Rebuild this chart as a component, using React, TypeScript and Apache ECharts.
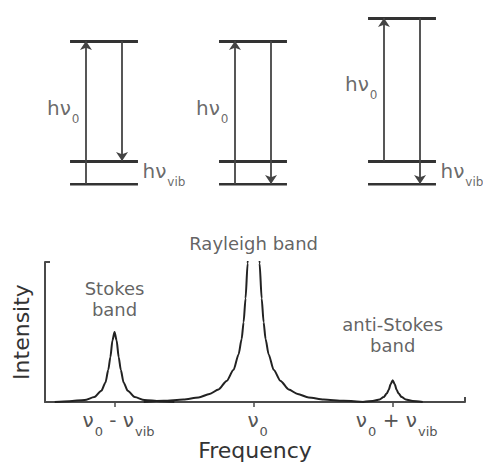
import React, { useEffect, useRef } from 'react';
import * as echarts from 'echarts';

// ---- Energy-level diagrams (energy in units of h·ν_vib) ----
const diagrams = ['Stokes', 'Rayleigh', 'anti-Stokes'];
const groundLevel = 0;
const vibLevel = 1;
const virtualLevels = [6.2, 6.2, 7.2];
const excitationFrom = [0, 0, 1];
const excitationTo = [6.2, 6.2, 7.2];
const emissionFrom = [6.2, 6.2, 7.2];
const emissionTo = [1, 0, 0];
const vibLabelShown = [true, false, true];

// ---- Spectrum (frequency in units of ν_vib relative to ν0; intensity arbitrary, axis top = 100) ----
const bandNames = ['Stokes\nband', 'Rayleigh band', 'anti-Stokes\nband'];
const bandCenters = [-1, 0, 1];
const tickLabels = ['ν0 - νvib', 'ν0', 'ν0 + νvib'];

const stokesOffsets = [0, 0.015, 0.03, 0.045, 0.065, 0.095, 0.145, 0.215, 0.325, 0.43];
const stokesValues = [50, 44, 32, 23, 14, 8, 3.5, 1.4, 0.6, 0];

const rayleighOffsets = [0, 0.029, 0.043, 0.058, 0.072, 0.086, 0.108, 0.144, 0.194, 0.252, 0.317, 0.396, 0.504, 0.647, 0.79];
const rayleighValues = [135, 120, 99, 74, 57, 45, 34, 23, 15, 9, 5.7, 3.2, 1.8, 0.85, 0];

const antiStokesOffsets = [0, 0.014, 0.029, 0.043, 0.065, 0.094, 0.144, 0.216];
const antiStokesValues = [15.6, 12.8, 8.5, 6, 3.5, 1.8, 0.7, 0];

const FONT = 'DejaVu Sans';
const LEVEL_HALF = 0.228;
const ARROW_DX = 0.121;
const X_MIN = -1.5;
const X_MAX = 1.52;
const Y_MAX = 100;

function mirror(center: number, offsets: number[], values: number[]) {
  const left = offsets.slice(1).map((o, i) => [center - o, values[i + 1]]).reverse();
  const right = offsets.map((o, i) => [center + o, values[i]]);
  return [...left, ...right];
}

function richify(s: string) {
  return s
    .split(/(ν(?:0|vib))/)
    .filter((p) => p.length > 0)
    .map((p) => {
      const m = p.match(/^ν(0|vib)$/);
      return m ? `{m|ν}{s|${m[1]}}` : `{m|${p}}`;
    })
    .join('');
}

export default function App() {
  const ref = useRef<HTMLDivElement>(null);
  useEffect(() => {
    if (!ref.current) return;
    const chart = echarts.init(ref.current, null, { renderer: 'svg' });

    const levelData: any[] = [];
    const arrowData: any[] = [];
    const h0Labels: any[] = [];
    const vibLabels: any[] = [];
    diagrams.forEach((_, i) => {
      [groundLevel, vibLevel, virtualLevels[i]].forEach((e) => {
        levelData.push({ coords: [[i - LEVEL_HALF, e], [i + LEVEL_HALF, e]] });
      });
      arrowData.push({ coords: [[i - ARROW_DX, excitationFrom[i]], [i - ARROW_DX, excitationTo[i]]] });
      arrowData.push({ coords: [[i + ARROW_DX, emissionFrom[i]], [i + ARROW_DX, emissionTo[i]]] });
      h0Labels.push([i - ARROW_DX, (excitationFrom[i] + excitationTo[i]) / 2]);
      if (vibLabelShown[i]) vibLabels.push([i + LEVEL_HALF, (groundLevel + vibLevel) / 2]);
    });

    const subRich = {
      m: { fontSize: 20, fontFamily: FONT, color: '#444', lineHeight: 22, verticalAlign: 'top' },
      s: { fontSize: 12, fontFamily: FONT, color: '#444', lineHeight: 14, verticalAlign: 'top', padding: [15, 0, 0, 1] },
    };

    const bandShapes = [
      mirror(bandCenters[0], stokesOffsets, stokesValues),
      mirror(bandCenters[1], rayleighOffsets, rayleighValues),
      mirror(bandCenters[2], antiStokesOffsets, antiStokesValues),
    ];
    const bandPeaks = [stokesValues[0], rayleighValues[0], antiStokesValues[0]];
    const bandLabelDistance = [12, 8, 24];

    const option: any = {
      animation: false,
      grid: [
        { left: 29.5, right: 6.5, top: 18, bottom: 278 },
        { left: 45, right: 18, top: 262, bottom: 59 },
      ],
      xAxis: [
        { gridIndex: 0, type: 'value', min: -0.5, max: 2.5, show: false },
        {
          gridIndex: 1, type: 'value', min: X_MIN, max: X_MAX,
          axisLine: { show: true, onZero: false, lineStyle: { color: '#4a4a4a', width: 2 } },
          axisTick: { show: true, customValues: bandCenters, length: 5, lineStyle: { color: '#4a4a4a', width: 1.5 } },
          axisLabel: {
            show: true, customValues: bandCenters, margin: 8, padding: [0, 0, 0, 8],
            formatter: (v: number) => richify(tickLabels[bandCenters.indexOf(Math.round(v))] || ''),
            rich: {
              m: { fontSize: 20, fontFamily: FONT, color: '#555', lineHeight: 22, verticalAlign: 'top' },
              s: { fontSize: 13, fontFamily: FONT, color: '#555', lineHeight: 12, verticalAlign: 'top', padding: [15, 0, 0, 1] },
            },
          },
          splitLine: { show: false },
          name: 'Frequency', nameLocation: 'middle', nameGap: 37,
          nameTextStyle: { fontSize: 22, fontFamily: FONT, color: '#333' },
        },
        {
          gridIndex: 1, type: 'value', min: X_MIN, max: X_MAX, position: 'bottom',
          axisLine: { show: false, onZero: false },
          axisTick: { show: true, inside: true, customValues: [X_MAX], length: 5, lineStyle: { color: '#4a4a4a', width: 2 } },
          axisLabel: { show: false }, splitLine: { show: false },
        },
      ],
      yAxis: [
        { gridIndex: 0, type: 'value', min: 0, max: 7.2, show: false },
        {
          gridIndex: 1, type: 'value', min: 0, max: Y_MAX,
          axisLine: { show: true, onZero: false, lineStyle: { color: '#4a4a4a', width: 2 } },
          axisTick: { show: true, inside: true, customValues: [Y_MAX], length: 5, lineStyle: { color: '#4a4a4a', width: 2 } },
          axisLabel: { show: false }, splitLine: { show: false },
          name: 'Intensity', nameLocation: 'middle', nameGap: 13, nameRotate: 90,
          nameTextStyle: { fontSize: 22, fontFamily: FONT, color: '#333' },
        },
      ],
      series: [
        {
          type: 'lines', coordinateSystem: 'cartesian2d', xAxisIndex: 0, yAxisIndex: 0,
          data: levelData, symbol: ['none', 'none'],
          lineStyle: { color: '#333', width: 3, opacity: 1 },
        },
        {
          type: 'lines', coordinateSystem: 'cartesian2d', xAxisIndex: 0, yAxisIndex: 0,
          data: arrowData, symbol: ['none', 'arrow'], symbolSize: 9, symbolOffset: [0, 4],
          lineStyle: { color: '#444', width: 1.8, opacity: 1 },
        },
        {
          type: 'scatter', xAxisIndex: 0, yAxisIndex: 0, data: h0Labels, symbolSize: 1,
          itemStyle: { color: 'transparent' }, silent: true,
          label: { show: true, position: 'left', distance: 6, offset: [0, -4], formatter: '{m|hν}{s|0}', rich: subRich },
        },
        {
          type: 'scatter', xAxisIndex: 0, yAxisIndex: 0, data: vibLabels, symbolSize: 1,
          itemStyle: { color: 'transparent' }, silent: true,
          label: { show: true, position: 'right', distance: 4, formatter: '{m|hν}{s|vib}', rich: subRich },
        },
        ...bandShapes.map((d, i) => ({
          type: 'line', name: diagrams[i], xAxisIndex: 1, yAxisIndex: 1, data: d,
          showSymbol: false, smooth: 0.25, smoothMonotone: 'x', clip: true,
          lineStyle: { color: '#222', width: 2 },
        })),
        {
          type: 'scatter', xAxisIndex: 1, yAxisIndex: 1, symbolSize: 1, clip: false,
          itemStyle: { color: 'transparent' }, silent: true,
          data: bandCenters.map((c, i) => ({
            value: [c, Math.min(bandPeaks[i], Y_MAX)],
            label: { distance: bandLabelDistance[i] },
          })),
          label: {
            show: true, position: 'top', fontSize: 18, lineHeight: 21, fontFamily: FONT, color: '#3a3a3a',
            align: 'center',
            formatter: (p: any) => bandNames[p.dataIndex],
          },
        },
      ],
    };
    chart.setOption(option);
    return () => chart.dispose();
  }, []);
  return <div ref={ref} style={{ position: 'fixed', left: 0, top: 0, width: 483, height: 462, background: '#fff' }} />;
}
